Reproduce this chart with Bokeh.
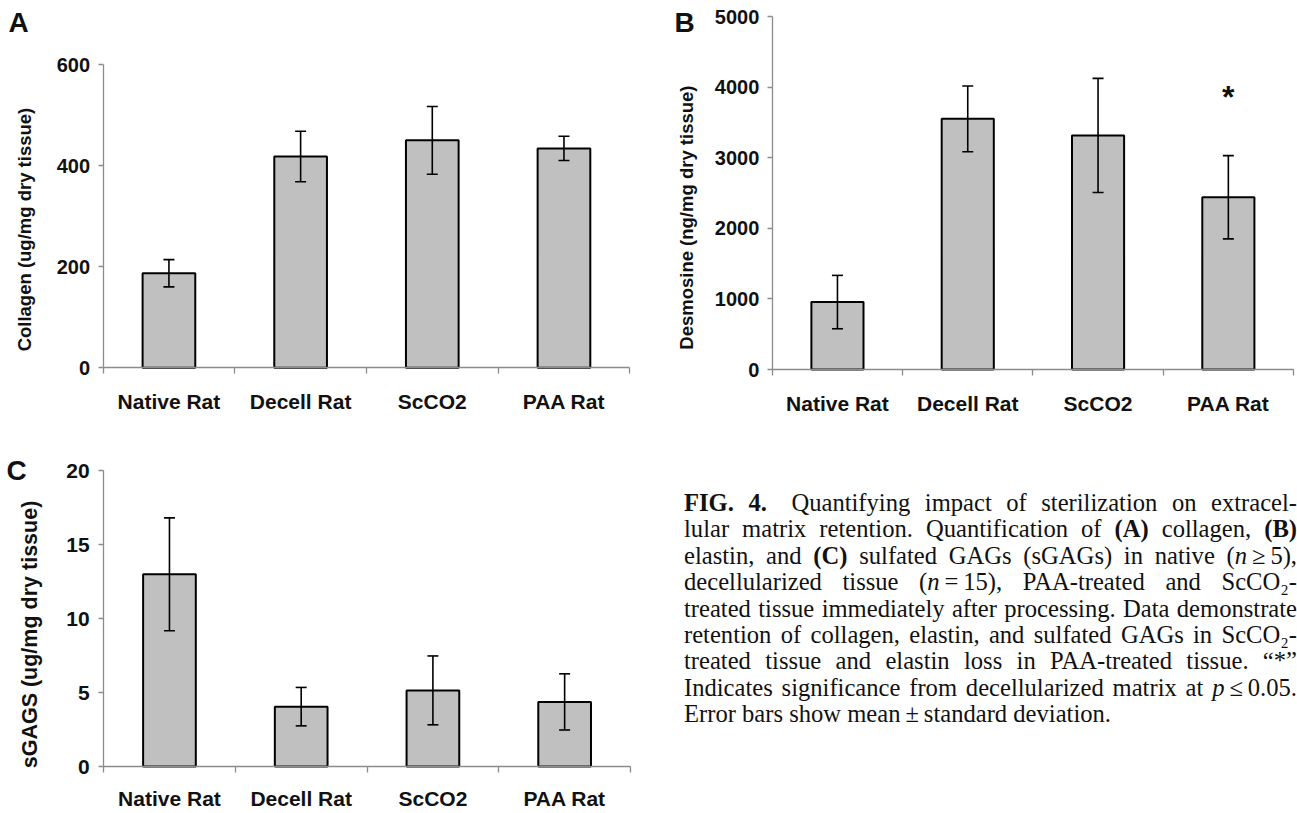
from bokeh.plotting import figure
from bokeh.models import (Range1d, FixedTicker, SingleIntervalTicker, Whisker, TeeHead,
                          ColumnDataSource, Label, Div, LinearAxis)
from bokeh.layouts import row, column
from bokeh.embed import file_html
from bokeh.resources import INLINE
from bokeh.core.properties import value

# ---------------- data ----------------
groups = ["Native Rat", "Decell Rat", "ScCO2", "PAA Rat"]

collagen_mean = [187, 418, 450, 434]
collagen_sd = [27, 50, 67, 24]

desmosine_mean = [955, 3550, 3315, 2440]
desmosine_sd = [378, 465, 808, 590]
desmosine_sig = ["", "", "", "*"]
desmosine_sig_y = [0, 0, 0, 3860]

sgag_mean = [13.0, 4.05, 5.15, 4.37]
sgag_sd = [3.82, 1.30, 2.33, 1.90]

caption_lines = [
    "<b>FIG. 4.</b>&emsp;Quantifying impact of sterilization on extracel-",
    "lular matrix retention. Quantification of <b>(A)</b> collagen, <b>(B)</b>",
    "elastin, and <b>(C)</b> sulfated GAGs (sGAGs) in native (<i>n</i>&thinsp;&ge;&thinsp;5),",
    "decellularized tissue (<i>n</i>&thinsp;=&thinsp;15), PAA-treated and ScCO\u2082-",
    "treated tissue immediately after processing. Data demonstrate",
    "retention of collagen, elastin, and sulfated GAGs in ScCO\u2082-",
    "treated tissue and elastin loss in PAA-treated tissue. &ldquo;*&rdquo;",
    "Indicates significance from decellularized matrix at <i>p</i>&thinsp;&le;&thinsp;0.05.",
    "Error bars show mean&thinsp;&plusmn;&thinsp;standard deviation.",
]

FONT = "Liberation Sans"
AXIS_GRAY = "#8c8c8c"
INK = "#111111"


def make_panel(means, sds, y_max, y_step, y_title, letter, W, H, geom,
               tick_fs, cat_fs, title_fs, tick_standoff, cat_standoff,
               title_center_y, title_standoff, letter_xy):
    """geom = (x of y axis, right end of x axis, top of y axis, x-axis line) in canvas px"""
    n = len(groups)
    x0, x1, ytop, ybot = geom
    cw = (x1 - x0) / n
    py = (ybot - ytop) / y_max
    p = figure(width=W, height=H, title=None,
               x_range=Range1d(-x0 / cw, (W - x0) / cw),
               y_range=Range1d(-(H - ybot) / py, y_max + ytop / py),
               output_backend="svg", toolbar_location=None, tools="",
               min_border=0, min_border_left=0, min_border_right=0,
               min_border_top=0, min_border_bottom=0)
    p.outline_line_color = None
    p.grid.visible = False
    p.background_fill_color = "white"
    p.border_fill_color = "white"

    xs = [i + 0.5 for i in range(n)]
    src = ColumnDataSource(dict(
        x=xs, top=means,
        upper=[m + s for m, s in zip(means, sds)],
        lower=[m - s for m, s in zip(means, sds)],
    ))
    p.vbar(x="x", top="top", bottom=0, width=0.4, source=src,
           fill_color="#c0c0c0", line_color="black", line_width=2)
    wh = Whisker(source=src, base="x", upper="upper", lower="lower",
                 line_color="black", line_width=1.6, level="overlay")
    wh.upper_head = TeeHead(size=11, line_color="black", line_width=1.6)
    wh.lower_head = TeeHead(size=11, line_color="black", line_width=1.6)
    p.add_layout(wh)

    xa = p.xaxis[0]
    xa.fixed_location = 0
    xa.bounds = (0, n)
    xa.ticker = FixedTicker(ticks=xs, minor_ticks=list(range(n + 1)))
    xa.major_label_overrides = {x: g for x, g in zip(xs, groups)}
    xa.axis_line_color = AXIS_GRAY
    xa.axis_line_width = 1.3
    xa.major_tick_out = 0
    xa.major_tick_in = 0
    xa.minor_tick_out = 6
    xa.minor_tick_in = 0
    xa.minor_tick_line_color = AXIS_GRAY
    xa.minor_tick_line_width = 1.3
    xa.major_label_standoff = cat_standoff
    xa.major_label_text_font = FONT
    xa.major_label_text_font_style = "bold"
    xa.major_label_text_font_size = f"{cat_fs}px"
    xa.major_label_text_color = INK

    ya = p.yaxis[0]
    ya.fixed_location = 0
    ya.bounds = (0, y_max)
    ya.ticker = SingleIntervalTicker(interval=y_step, num_minor_ticks=0)
    ya.axis_line_color = AXIS_GRAY
    ya.axis_line_width = 1.3
    ya.major_tick_line_color = AXIS_GRAY
    ya.major_tick_line_width = 1.3
    ya.major_tick_out = 5
    ya.major_tick_in = 0
    ya.minor_tick_line_color = None
    ya.major_label_standoff = tick_standoff
    ya.major_label_text_font = FONT
    ya.major_label_text_font_style = "bold"
    ya.major_label_text_font_size = f"{tick_fs}px"
    ya.major_label_text_color = INK

    # axis title carried by a line-less companion axis so it can sit where the original does
    tc = (ybot - title_center_y) / py
    ta = LinearAxis(fixed_location=0, bounds=(tc - 1e-6 * y_max, tc + 1e-6 * y_max),
                    ticker=FixedTicker(ticks=[]),
                    axis_line_color=None, major_tick_line_color=None, minor_tick_line_color=None,
                    major_tick_out=0, major_tick_in=0, minor_tick_out=0, minor_tick_in=0,
                    axis_label=y_title, axis_label_standoff=title_standoff,
                    axis_label_text_font=FONT, axis_label_text_font_style="bold",
                    axis_label_text_font_size=f"{title_fs}px", axis_label_text_color=INK)
    p.add_layout(ta, "left")

    p.add_layout(Label(x=letter_xy[0], y=H - letter_xy[1], x_units="screen", y_units="screen",
                       text=letter, text_font=FONT, text_font_style="bold",
                       text_font_size="28px", text_color=INK,
                       text_align="left", text_baseline="middle"))
    return p, xs


# panel A : canvas 650 x 418 at page (0, 0)
pA, _ = make_panel(collagen_mean, collagen_sd, 600, 200, "Collagen (ug/mg dry  tissue)", "A",
                   650, 418, (102.6, 629.3, 64, 367.3),
                   20, 21, 18.5, 8, 16, 226.5, 69, (8, 22))

# panel B : canvas 647 x 418 at page (650, 0)
pB, xsB = make_panel(desmosine_mean, desmosine_sd, 5000, 1000,
                     "Desmosine  (ng/mg dry  tissue)", "B",
                     647, 418, (121.8, 643, 16, 369),
                     20, 21, 18.5, 8, 16, 212, 76, (24, 21.5))
sig_src = ColumnDataSource(dict(
    x=[x for x, s in zip(xsB, desmosine_sig) if s],
    y=[y for y, s in zip(desmosine_sig_y, desmosine_sig) if s],
    t=[s for s in desmosine_sig if s],
))
pB.text(x="x", y="y", text="t", source=sig_src, text_font=value(FONT),
        text_font_style="bold", text_font_size="32px", text_align="center",
        text_baseline="middle", text_color=INK)

# panel C : canvas 650 x 394 at page (0, 418)
pC, _ = make_panel(sgag_mean, sgag_sd, 20, 5, "sGAGS (ug/mg dry tissue)", "C",
                   650, 394, (103.1, 630, 52.4, 348),
                   21, 21, 21.5, 9, 14, 216.2, 62, (6, 51.7))

line_html = []
for i, ln in enumerate(caption_lines):
    align = "left" if i == len(caption_lines) - 1 else "justify"
    line_html.append(f'<div style="text-align:{align};text-align-last:{align};">{ln}</div>')
caption_html = (
    '<div style="box-sizing:border-box;width:647px;padding:72px 0 0 34px;'
    "font-family:'Liberation Serif','Times New Roman',serif;font-size:24.6px;"
    'line-height:26.4px;color:#111111;">' + "".join(line_html) + "</div>"
)
cap = Div(text=caption_html, width=647, height=394, margin=0)

layout = column(row(pA, pB), row(pC, cap))

with open("out.html", "w") as f:
    f.write(file_html(layout, INLINE))
